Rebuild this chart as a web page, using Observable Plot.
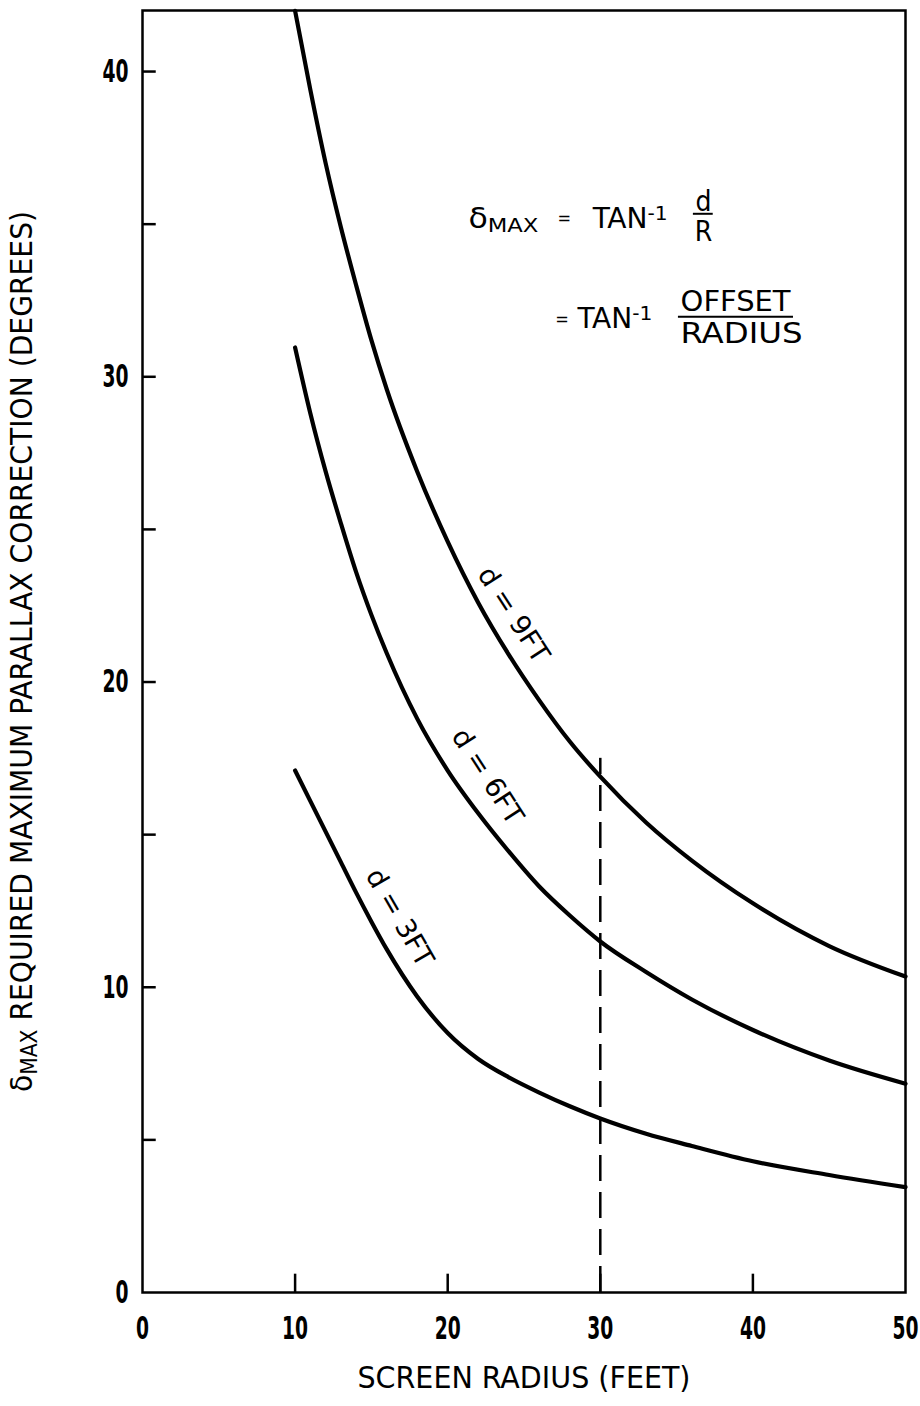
<!DOCTYPE html>
<html>
<head>
<meta charset="utf-8">
<script src="https://cdn.jsdelivr.net/npm/d3@7"></script>
<script src="https://cdn.jsdelivr.net/npm/@observablehq/plot@0.6"></script>
<style>
  html, body { margin: 0; padding: 0; background: #fff; }
  #chart svg { display: block; }
</style>
</head>
<body>
<div id="chart"></div>
<script>
// ---- data ----
const radius = [10, 11, 12, 13, 14, 15, 16, 18, 20, 22, 24, 26, 28, 30, 33, 36, 40, 45, 50];
const delta9 = [41.99, 39.4, 37.0, 34.9, 33.0, 31.2, 29.6, 26.9, 24.6, 22.6, 20.9, 19.4, 18.05, 16.9, 15.4, 14.15, 12.75, 11.35, 10.35];
const delta6 = [30.96, 28.8, 26.9, 25.2, 23.6, 22.2, 20.95, 18.8, 17.1, 15.7, 14.45, 13.3, 12.35, 11.5, 10.5, 9.6, 8.6, 7.6, 6.84];
const delta3 = [17.1, 16.1, 15.1, 14.1, 13.1, 12.15, 11.25, 9.7, 8.5, 7.65, 7.05, 6.55, 6.1, 5.7, 5.2, 4.8, 4.3, 3.85, 3.45];
const seriesNames = ["d = 9FT", "d = 6FT", "d = 3FT"];
const seriesValues = [delta9, delta6, delta3];

const xTicks = [10, 20, 30, 40];
const xTickLabels = [0, 10, 20, 30, 40, 50];
const yTicks = [5, 10, 15, 20, 25, 30, 35, 40];
const yTickLabels = [0, 10, 20, 30, 40];

const markerRadius = [30];
const markerTop = [17.5];

const xTitle = "SCREEN RADIUS (FEET)";
const yTitle = "δ_{MAX} REQUIRED MAXIMUM PARALLAX CORRECTION (DEGREES)";

const curveLabelX = [24.3, 22.6, 16.84];
const curveLabelY = [22.2, 16.9, 12.28];
const curveLabelAngle = [57, 57, 60];

const formulaLabels = ["δ_{MAX}", "=", "TAN^{-1}", "d", "R", "=", "TAN^{-1}", "OFFSET", "RADIUS"];
const formulaX = [21.36, 27.64, 29.5, 36.76, 36.76, 27.5, 28.5, 35.26, 35.26];
const formulaY = [35.18, 35.18, 35.18, 35.74, 34.75, 31.9, 31.9, 32.46, 31.41];
const formulaAnchor = ["start", "middle", "start", "middle", "middle", "middle", "start", "start", "start"];
const barX1 = [36.1, 35.12];
const barX2 = [37.4, 42.66];
const barY = [35.34, 31.97];

// rendered widths (px) measured on the reference, used to fit the condensed lettering
const textWidths = {
  "SCREEN RADIUS (FEET)": 333,
  "δ_{MAX} REQUIRED MAXIMUM PARALLAX CORRECTION (DEGREES)": 881,
  "d = 9FT": 108, "d = 6FT": 108, "d = 3FT": 108,
  "δ_{MAX}": 70, "TAN^{-1}": 75, "OFFSET": 110, "RADIUS": 122
};
const digitWidth = 13;

// ---- tables built from the arrays ----
const lineData = seriesNames.flatMap((name, s) => radius.map((r, i) => ({name, r, v: seriesValues[s][i]})));
const curveLabels = seriesNames.map((t, i) => ({t, x: curveLabelX[i], y: curveLabelY[i], a: curveLabelAngle[i]}));
const formula = formulaLabels.map((t, i) => ({t, x: formulaX[i], y: formulaY[i], anchor: formulaAnchor[i]}));
const bars = barY.map((y, i) => ({y, x1: barX1[i], x2: barX2[i]}));
const marker = markerRadius.map((x, i) => ({x, top: markerTop[i]}));

const font = "'DejaVu Sans Condensed', 'DejaVu Sans', sans-serif";

const chart = Plot.plot({
  width: 920,
  height: 1406,
  marginLeft: 142,
  marginRight: 15,
  marginTop: 10,
  marginBottom: 114,
  x: {domain: [0, 50]},
  y: {domain: [0, 42]},
  style: {fontFamily: font, background: "#fff", color: "#000"},
  marks: [
    Plot.frame({stroke: "#000", strokeWidth: 2.5}),
    Plot.ruleX(xTicks, {x: d => d, y1: 0, y2: 0.6, stroke: "#000", strokeWidth: 2.5}),
    Plot.ruleY(yTicks, {y: d => d, x1: 0, x2: 0.9, stroke: "#000", strokeWidth: 2.5}),
    Plot.axisX({ticks: xTickLabels, tickSize: 0, tickPadding: 24, fontSize: 32, fontWeight: "bold", label: null, tickFormat: d => String(d)}),
    Plot.axisY({ticks: yTickLabels, tickSize: 0, tickPadding: 14, fontSize: 32, fontWeight: "bold", label: null, tickFormat: d => String(d)}),
    Plot.line(lineData, {x: "r", y: "v", z: "name", stroke: "#000", strokeWidth: 4.2, curve: "monotone-x"}),
    Plot.ruleX(marker, {x: "x", y1: 0, y2: "top", stroke: "#000", strokeWidth: 2.5, strokeDasharray: "26,11"}),
    Plot.text(curveLabels, {x: "x", y: "y", text: "t", rotate: "a", fontSize: 27, textAnchor: "middle", lineAnchor: "middle"}),
    Plot.text(formula, {x: "x", y: "y", text: "t", textAnchor: "start", fontSize: 28, lineAnchor: "middle", filter: d => d.anchor === "start"}),
    Plot.text(formula, {x: "x", y: "y", text: "t", textAnchor: "middle", fontSize: 18, lineAnchor: "middle", filter: d => d.anchor === "middle" && d.t === "="}),
    Plot.text(formula, {x: "x", y: "y", text: "t", textAnchor: "middle", fontSize: 28, lineAnchor: "middle", filter: d => d.anchor === "middle" && d.t !== "="}),
    Plot.ruleY(bars, {y: "y", x1: "x1", x2: "x2", stroke: "#000", strokeWidth: 2}),
    Plot.text([xTitle], {text: d => d, frameAnchor: "bottom", dy: 86, fontSize: 31, textAnchor: "middle", lineAnchor: "middle"}),
    Plot.text([yTitle], {text: d => d, frameAnchor: "left", dx: -120, rotate: -90, fontSize: 31, textAnchor: "middle", lineAnchor: "middle"})
  ]
});

// fit widths and turn _{..} / ^{..} into real sub/superscript tspans
d3.select(chart).selectAll("text").each(function () {
  const t = this.textContent;
  const sel = d3.select(this);
  if (textWidths[t]) sel.attr("textLength", textWidths[t]).attr("lengthAdjust", "spacingAndGlyphs");
  else if (/^\d+$/.test(t)) sel.attr("textLength", digitWidth * t.length).attr("lengthAdjust", "spacingAndGlyphs");
  if (!/[_^]\{/.test(t)) return;
  sel.text(null);
  const re = /([_^])\{([^}]*)\}|([^_^]+)/g;
  let m;
  while ((m = re.exec(t))) {
    if (m[3]) sel.append("tspan").text(m[3]);
    else sel.append("tspan").text(m[2]).attr("font-size", "72%").attr("baseline-shift", m[1] === "_" ? "-22%" : "42%");
  }
});

document.getElementById("chart").appendChild(chart);
</script>
</body>
</html>
